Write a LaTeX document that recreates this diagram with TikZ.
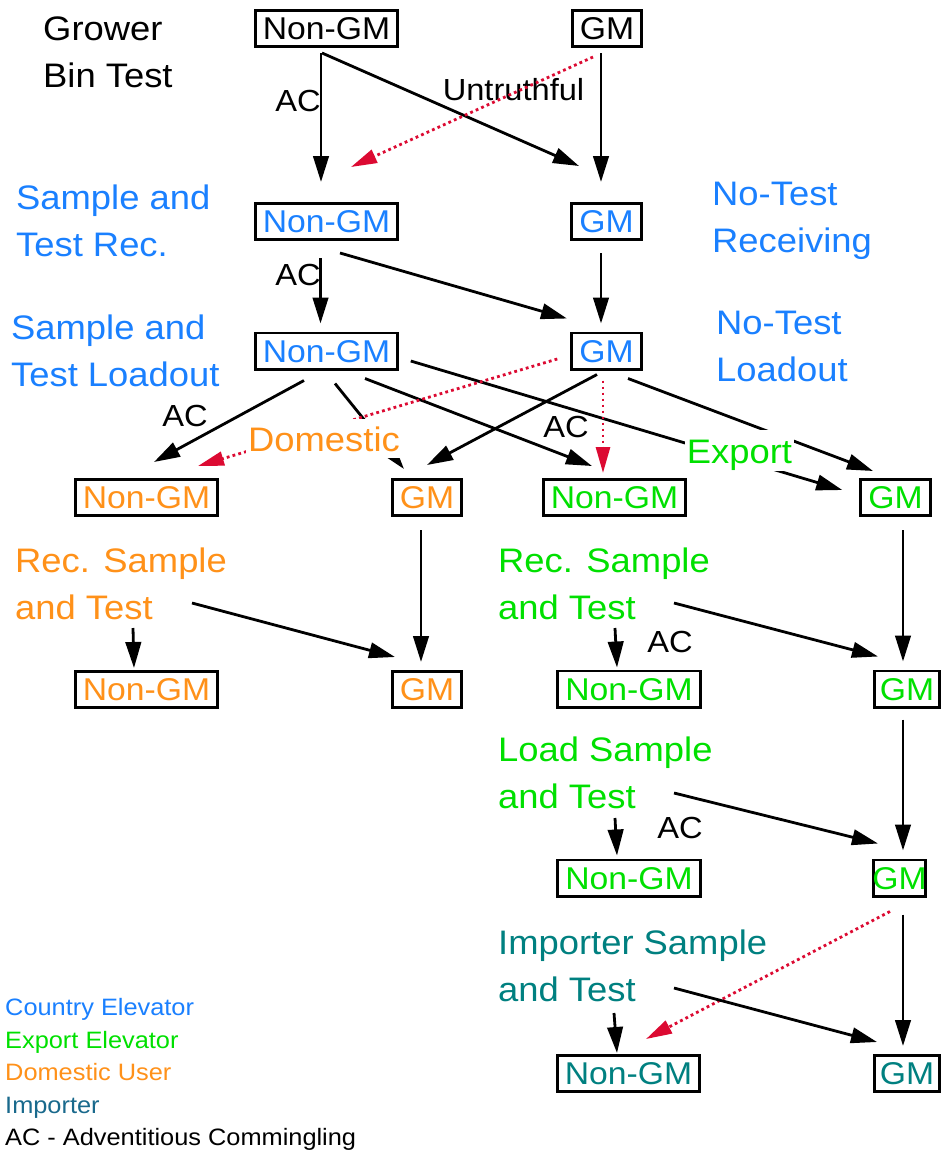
\documentclass[tikz,border=0pt]{standalone}
\usepackage{fontspec}
\setmainfont{Liberation Sans}[FakeStretch=1.07]
\usetikzlibrary{arrows.meta,calc}
\definecolor{cblue}{RGB}{26,128,255}
\definecolor{cgreen}{RGB}{0,224,0}
\definecolor{corange}{RGB}{255,145,25}
\definecolor{cteal}{RGB}{0,128,128}
\definecolor{cimp}{RGB}{25,105,140}
\definecolor{cred}{RGB}{220,10,50}
\begin{document}
\begin{tikzpicture}[x=1pt,y=-1pt,
  box/.style={draw=black,line width=2.8pt,inner xsep=7.7pt,inner ysep=0pt,minimum height=36.2pt,text height=22.6pt,text depth=0pt,font=\fontsize{31.5}{36}\selectfont},
  lab/.style={anchor=north west,inner sep=0pt,align=left,font=\fontsize{34}{47}\selectfont},
  aclab/.style={anchor=base,inner sep=0pt,font=\fontsize{30.5}{36}\selectfont},
  leg/.style={anchor=base west,inner sep=0pt,font=\fontsize{23.7}{28}\selectfont},
  cover/.style={anchor=base,fill=white,inner xsep=2pt,inner ysep=0pt,font=\fontsize{34}{40}\selectfont},
  arr/.style={line width=2.8pt,-{Triangle[length=26pt,width=15.5pt]}},
  redarr/.style={cred,line width=2.8pt,dash pattern=on 2.8pt off 3.2pt,-{Triangle[length=26pt,width=14pt]}}]
\useasboundingbox (0,0) rectangle (942,1151);
\fill[white] (0,0) rectangle (942,1151);
% boxes
\node[box,text=black] (n1) at (326.5,28.5) {Non-GM};
\node[box,text=black] (g1) at (607,28.5) {GM};
\node[box,text=cblue] (n2) at (326.5,221.5) {Non-GM};
\node[box,text=cblue] (g2) at (606.5,221.5) {GM};
\node[box,text=cblue] (n3) at (326.5,351) {Non-GM};
\node[box,text=cblue] (g3) at (606.5,351) {GM};
\node[box,text=corange] (dn4) at (146.5,497.5) {Non-GM};
\node[box,text=corange] (dg4) at (427,497.5) {GM};
\node[box,text=cgreen] (en4) at (614.5,497.5) {Non-GM};
\node[box,text=cgreen] (eg4) at (895.5,497.5) {GM};
\node[box,text=corange] (dn5) at (146.5,689.5) {Non-GM};
\node[box,text=corange] (dg5) at (427,689.5) {GM};
\node[box,text=cgreen] (en5) at (629,689) {Non-GM};
\node[box,text=cgreen,inner xsep=5.5pt] (eg5) at (907,689) {GM};
\node[box,text=cgreen] (en6) at (629,878) {Non-GM};
\node[box,text=cgreen,inner xsep=-1.5pt] (eg6) at (899.5,878) {GM};
\node[box,text=cteal] (in7) at (628.5,1073.5) {Non-GM};
\node[box,text=cteal,inner xsep=5.5pt] (ig7) at (907,1073.5) {GM};
% stage labels
\node[lab,text=black] (grow) at (43,17) {Grower\\Bin Test};
\node[lab,text=cblue] (strec) at (16,185) {Sample and\\Test Rec.};
\node[lab,text=cblue] (ntrec) at (712,182) {No-Test\\Receiving};
\node[lab,text=cblue] (stload) at (11,315) {Sample and\\Test Loadout};
\node[lab,text=cblue] (ntload) at (716,311) {No-Test\\Loadout};
\node[lab,text=corange] (dlab) at (15,548) {Rec. Sample\\and Test};
\node[lab,text=cgreen] (glab) at (498,548) {Rec. Sample\\and Test};
\node[lab,text=cgreen] (llab) at (498,737) {Load Sample\\and Test};
\node[lab,text=cteal] (ilab) at (498,930) {Importer Sample\\and Test};
% small labels
\node[aclab] (ac1) at (298,111) {AC};
\node[aclab] (untr) at (513.5,100) {Untruthful};
\node[aclab] (ac2) at (298,285) {AC};
\node[aclab] (ac3) at (185,426) {AC};
\node[aclab] (ac4) at (566,437) {AC};
\node[aclab] (ac5) at (670,652) {AC};
\node[aclab] (ac6) at (680,838) {AC};
% connectors
\draw[arr] ($(n1.south)+(-5.5,5)$) -- ($(n2.north)+(-5.5,-20)$);
\draw[arr] ($(n1.south)+(-4.5,5)$) -- ($(g2.north)+(-27.5,-36)$);
\draw[arr] ($(g1.south)+(-6,5)$) -- ($(g2.north)+(-5.5,-20)$);
\draw[redarr] ($(g1.south)+(-14,9)$) -- ($(n2.north)+(24.5,-35)$);
\draw[arr] ($(n2.south)+(-6,17)$) -- ($(n3.north)+(-6,-8)$);
\draw[arr] ($(n2.south)+(13.5,12)$) -- ($(g3.north)+(-39.5,-13)$);
\draw[arr] ($(g2.south)+(-5.5,12)$) -- ($(g3.north)+(-5.5,-8)$);
\draw[arr] ($(n3.south)+(-22.5,10)$) -- ($(dn4.north)+(7.5,-16)$);
\draw[arr] ($(n3.south)+(8.5,13)$) -- ($(dg4.north)+(-23,-9)$);
\draw[arr] ($(n3.south)+(38.5,8)$) -- ($(en4.north)+(-22.5,-12)$);
\draw[arr] ($(n3.east)+(11.5,10)$) -- ($(eg4.west)+(-17,-7.5)$);
\draw[arr] ($(g3.south)+(-9.5,4)$) -- ($(dg4.north)+(0,-13)$);
\draw[redarr] ($(g3.south)+(-3.5,10)$) -- ($(en4.north)+(-11.5,-5)$);
\draw[arr] ($(g3.south)+(21.5,8)$) -- ($(eg4.north)+(-22.5,-7)$);
\draw[redarr] ($(g3.west)+(-13,8)$) -- ($(dn4.north)+(51.5,-12)$);
\draw[arr] ($(dg4.south)+(-6,13)$) -- ($(dg5.north)+(-6,-8)$);
\draw[arr] ($(dlab.north west)+(118,80)$) -- ($(dn5.north)+(-12.5,-2)$);
\draw[arr] ($(dlab.north west)+(177,55)$) -- ($(dg5.north)+(-32,-13)$);
\draw[arr] ($(eg4.south)+(7.5,13)$) -- ($(eg5.north)+(-4,-8)$);
\draw[arr] ($(glab.north west)+(117,80)$) -- ($(en5.north)+(-12,-2)$);
\draw[arr] ($(glab.north west)+(176,55)$) -- ($(eg5.north)+(-29,-13)$);
\draw[arr] ($(eg5.south)+(-4,11)$) -- ($(eg6.north)+(3.5,-8)$);
\draw[arr] ($(llab.north west)+(117,81)$) -- ($(en6.north)+(-12,-3)$);
\draw[arr] ($(llab.north west)+(176,56)$) -- ($(eg6.north)+(-21.5,-15)$);
\draw[arr] ($(eg6.south)+(3.5,17)$) -- ($(ig7.north)+(-4,-8)$);
\draw[redarr] ($(eg6.south)+(-9.5,14)$) -- ($(in7.north)+(17.5,-15)$);
\draw[arr] ($(ilab.north west)+(116,83)$) -- ($(in7.north)+(-11.5,-1)$);
\draw[arr] ($(ilab.north west)+(176,58)$) -- ($(ig7.north)+(-30,-12)$);
% covering labels
\node[cover,text=corange,text height=32pt,text depth=7pt] (dom) at (324,451) {Domestic};
\node[cover,text=cgreen,text height=33pt,text depth=8pt] (exp) at (739.5,463) {Export};
% legend
\node[leg,text=cblue] (l1) at (5,1015) {Country Elevator};
\node[leg,text=cgreen] (l2) at (5,1048) {Export Elevator};
\node[leg,text=corange] (l3) at (5,1080) {Domestic User};
\node[leg,text=cimp] (l4) at (5,1113) {Importer};
\node[leg,text=black] (l5) at (5,1145) {AC - Adventitious Commingling};
\end{tikzpicture}
\end{document}
